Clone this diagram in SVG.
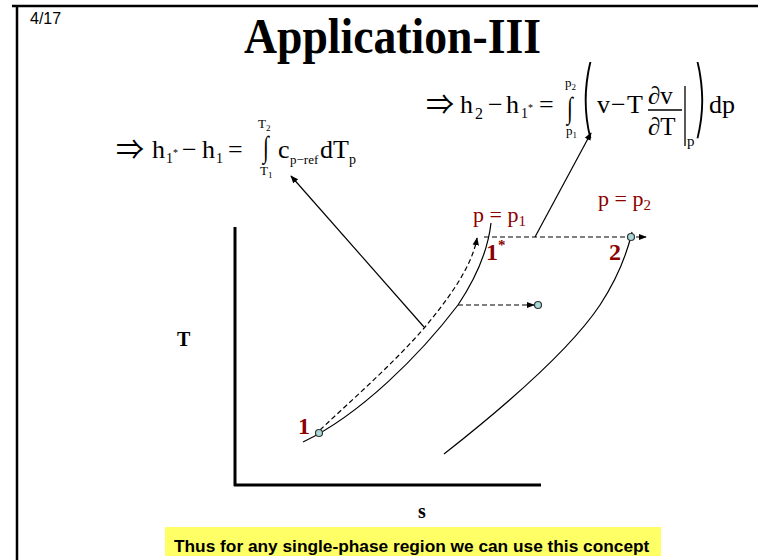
<svg xmlns="http://www.w3.org/2000/svg" width="758" height="560" viewBox="0 0 758 560">
<style>
.ser{font-family:"Liberation Serif","Times New Roman",serif;fill:#000}
.arr{font-family:"Noto Sans CJK JP","Liberation Serif",serif;fill:#000}
.par{font-family:Inter,"Open Sans","Liberation Sans",sans-serif;font-weight:200;fill:#000}
.red{font-family:"Liberation Serif","Times New Roman",serif;fill:#8B0000}
.sans{font-family:"Liberation Sans",Arial,sans-serif;fill:#000}
.ln{fill:none;stroke:#000;stroke-width:1.2}
.dash{fill:none;stroke:#000;stroke-width:1.2;stroke-dasharray:5,3}
.dot{fill:#a8d8d8;stroke:#333;stroke-width:1.2}
</style>
<defs>
<marker id="ah" viewBox="0 0 10 10" refX="9" refY="5" markerWidth="8" markerHeight="8" markerUnits="userSpaceOnUse" orient="auto"><path d="M0,1 L10,5 L0,9 Z" fill="#000"/></marker>
</defs>
<rect width="758" height="560" fill="#fff"/>
<g id="frame">
<line x1="12" y1="6" x2="758" y2="6" stroke="#000" stroke-width="2.5"/>
<line x1="17" y1="5" x2="17" y2="560" stroke="#000" stroke-width="2.5"/>
</g>
<g id="page"><text class="sans" x="30" y="24" font-size="16">4/17</text></g>
<g id="title"><text class="ser" x="244" y="53" font-size="50" font-weight="bold" textLength="297" lengthAdjust="spacingAndGlyphs">Application-III</text></g>
<g id="axes">
<line x1="235" y1="227" x2="235" y2="486" stroke="#000" stroke-width="3"/>
<line x1="234" y1="485" x2="541" y2="485" stroke="#000" stroke-width="3"/>
<text class="ser" x="177" y="346" font-size="20" font-weight="bold">T</text>
<text class="ser" x="418" y="518" font-size="20" font-weight="bold">s</text>
</g>
<g id="curves">
<path class="ln" d="M303,442 C360,415 420,355 458,305 C478,275 488,250 491,223"/>
<path class="ln" d="M444,454 C500,410 570,350 600,305 C615,282 626,258 632,232"/>
</g>
<g id="connectors">
<path class="dash" d="M320,430 C355,397 395,362 425,327 C445,303 472,268 477,238" marker-end="url(#ah)"/>
<line class="dash" x1="484" y1="237" x2="646" y2="237" marker-end="url(#ah)"/>
<line class="dash" x1="458" y1="305" x2="534" y2="305" marker-end="url(#ah)"/>
<line class="ln" x1="424" y1="327" x2="291" y2="176" marker-end="url(#ah)"/>
<line class="ln" x1="535" y1="237" x2="591" y2="133" marker-end="url(#ah)"/>
</g>
<g id="points">
<circle class="dot" cx="319" cy="433" r="3.5"/>
<circle class="dot" cx="538" cy="305" r="3.5"/>
<circle class="dot" cx="631" cy="237" r="3.5"/>
</g>
<g id="labels">
<text class="red" x="473" y="222" font-size="22">p = p<tspan font-size="15" dy="4">1</tspan></text>
<text class="red" x="598" y="206" font-size="22">p = p<tspan font-size="15" dy="4">2</tspan></text>
<text class="red" x="486" y="260" font-size="24" font-weight="bold">1<tspan font-size="15" dy="-10">*</tspan></text>
<text class="red" x="609" y="260" font-size="24" font-weight="bold">2</text>
<text class="red" x="298" y="434" font-size="24" font-weight="bold">1</text>
</g>
<g id="eq1">
<text class="arr" x="116" y="160" font-size="28">⇒</text>
<text class="ser" x="152" y="158" font-size="26">h</text>
<text class="ser" x="166" y="163" font-size="14">1</text>
<text class="ser" x="173" y="156" font-size="10">*</text>
<text class="ser" x="182" y="158" font-size="26">−</text>
<text class="ser" x="202" y="158" font-size="26">h</text>
<text class="ser" x="216" y="163" font-size="14">1</text>
<text class="ser" x="228" y="158" font-size="26">=</text>
<text class="ser" x="263" y="157" font-size="30" transform="translate(263,0) scale(0.7,1) translate(-263,0)">∫</text>
<text class="ser" x="258" y="128" font-size="13">T<tspan font-size="9" dy="3">2</tspan></text>
<text class="ser" x="260" y="175" font-size="13">T<tspan font-size="9" dy="3">1</tspan></text>
<text class="ser" x="278" y="158" font-size="26">c</text>
<text class="ser" x="290" y="164" font-size="13">p−ref</text>
<text class="ser" x="320" y="158" font-size="26">dT</text>
<text class="ser" x="349" y="164" font-size="14">p</text>
</g>
<g id="eq2">
<text class="arr" x="426" y="115" font-size="28">⇒</text>
<text class="ser" x="460" y="113" font-size="26">h</text>
<text class="ser" x="475" y="119" font-size="16">2</text>
<text class="ser" x="488" y="113" font-size="26">−</text>
<text class="ser" x="506" y="113" font-size="26">h</text>
<text class="ser" x="521" y="118" font-size="14">1</text>
<text class="ser" x="528" y="111" font-size="10">*</text>
<text class="ser" x="539" y="113" font-size="26">=</text>
<text class="ser" x="567" y="118" font-size="30" transform="translate(567,0) scale(0.7,1) translate(-567,0)">∫</text>
<text class="ser" x="565" y="87" font-size="13">p<tspan font-size="9" dy="3">2</tspan></text>
<text class="ser" x="566" y="135" font-size="13">p<tspan font-size="9" dy="3">1</tspan></text>
<text class="par" x="0" y="0" font-size="42" transform="translate(580,127) scale(1,2)">(</text>
<text class="ser" x="597" y="113" font-size="26">v</text>
<text class="ser" x="611" y="113" font-size="26">−</text>
<text class="ser" x="627" y="113" font-size="26">T</text>
<text class="ser" x="648" y="104" font-size="25">∂v</text>
<line x1="648" y1="110" x2="682" y2="110" stroke="#000" stroke-width="1.3"/>
<text class="ser" x="648" y="135" font-size="25">∂T</text>
<line x1="685" y1="86" x2="685" y2="146" stroke="#000" stroke-width="1.3"/>
<text class="ser" x="687" y="146" font-size="15">p</text>
<text class="par" x="0" y="0" font-size="42" transform="translate(694,127) scale(1,2)">)</text>
<text class="ser" x="709" y="113" font-size="26">dp</text>
</g>
<g id="note">
<rect x="165" y="527" width="496" height="29" fill="#ffff66"/>
<text class="sans" x="174" y="552" font-size="17.3" font-weight="bold">Thus for any single-phase region we can use this concept</text>
</g>
</svg>
